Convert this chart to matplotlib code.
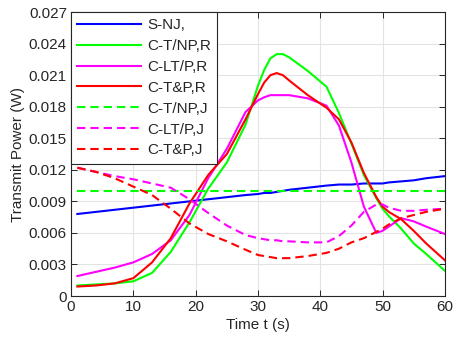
import matplotlib
matplotlib.use("Agg")
import matplotlib.pyplot as plt

plt.rcParams['font.family'] = ['Liberation Sans', 'DejaVu Sans']

# time samples (s)
t = [1, 4, 7, 10, 13, 16, 19, 22, 25, 28, 30, 31, 32, 33, 34, 35, 38, 41, 43, 45, 47, 49, 50, 51, 53, 55, 57, 60]

s_nj = [0.0078, 0.0080, 0.0082, 0.0084, 0.0086, 0.0088, 0.0090, 0.0092, 0.0094, 0.0096, 0.0097, 0.0098, 0.0098,
        0.0099, 0.0100, 0.0101, 0.0103, 0.0105, 0.0106, 0.0106, 0.0107, 0.0107, 0.0107, 0.0108, 0.0109, 0.0110,
        0.0112, 0.0114]
ct_np_r = [0.0010, 0.0011, 0.0012, 0.0014, 0.0022, 0.0042, 0.0070, 0.0102, 0.0127, 0.0163, 0.0200, 0.0215, 0.0226,
           0.0230, 0.0230, 0.0227, 0.0214, 0.0199, 0.0174, 0.0145, 0.0115, 0.0093, 0.0083, 0.0076, 0.0064, 0.0050,
           0.0040, 0.0024]
clt_p_r = [0.0019, 0.0023, 0.0027, 0.0032, 0.0040, 0.0053, 0.0077, 0.0112, 0.0140, 0.0175, 0.0186, 0.0189, 0.0191,
           0.0191, 0.0191, 0.0191, 0.0188, 0.0181, 0.0162, 0.0127, 0.0085, 0.0060, 0.0062, 0.0066, 0.0074, 0.0071,
           0.0066, 0.0059]
ctp_r = [0.0009, 0.0010, 0.0012, 0.0017, 0.0032, 0.0055, 0.0088, 0.0115, 0.0135, 0.0168, 0.0192, 0.0203, 0.0210,
         0.0212, 0.0210, 0.0205, 0.0191, 0.0179, 0.0168, 0.0146, 0.0117, 0.0094, 0.0085, 0.0080, 0.0073, 0.0062,
         0.0050, 0.0034]
ct_np_j = [0.0100] * len(t)
clt_p_j = [0.0122, 0.0118, 0.0114, 0.0111, 0.0107, 0.0103, 0.0092, 0.0079, 0.0067, 0.0058, 0.0055, 0.0054, 0.0053,
           0.0053, 0.0052, 0.0052, 0.0051, 0.0051, 0.0057, 0.0067, 0.0080, 0.0087, 0.0087, 0.0084, 0.0081, 0.0081,
           0.0082, 0.0083]
ctp_j = [0.0122, 0.0118, 0.0112, 0.0104, 0.0096, 0.0083, 0.0069, 0.0059, 0.0052, 0.0044, 0.0039, 0.0038, 0.0037,
         0.0036, 0.0036, 0.0036, 0.0038, 0.0041, 0.0045, 0.0051, 0.0055, 0.0061, 0.0064, 0.0068, 0.0074, 0.0077,
         0.0080, 0.0083]

labels = ['S-NJ,', 'C-T/NP,R', 'C-LT/P,R', 'C-T&P,R', 'C-T/NP,J', 'C-LT/P,J', 'C-T&P,J']

fig = plt.figure(figsize=(4.53, 3.45), dpi=100)
ax = fig.add_axes([0.157, 0.142, 0.825, 0.823])

txt = '#262626'
lw = 1.5
dash = (4, 2.4)
ax.plot(t, s_nj, color=(0, 0, 1), lw=lw, label=labels[0])
ax.plot(t, ct_np_r, color=(0, 1, 0), lw=lw, label=labels[1])
ax.plot(t, clt_p_r, color=(1, 0, 1), lw=lw, label=labels[2])
ax.plot(t, ctp_r, color=(1, 0, 0), lw=lw, label=labels[3])
ax.plot(t, ct_np_j, color=(0, 1, 0), lw=lw, ls='--', dashes=dash, label=labels[4])
ax.plot(t, clt_p_j, color=(1, 0, 1), lw=lw, ls='--', dashes=dash, label=labels[5])
ax.plot(t, ctp_j, color=(1, 0, 0), lw=lw, ls='--', dashes=dash, label=labels[6])

ax.set_xlim(0, 60)
ax.set_ylim(0, 0.027)
ax.set_xticks([0, 10, 20, 30, 40, 50, 60])
ax.set_yticks([0, 0.003, 0.006, 0.009, 0.012, 0.015, 0.018, 0.021, 0.024, 0.027])
ax.set_yticklabels(['0', '0.003', '0.006', '0.009', '0.012', '0.015', '0.018', '0.021', '0.024', '0.027'])
ax.grid(True, color='#e3e3e3', lw=0.8)
ax.set_axisbelow(True)
ax.tick_params(direction='in', top=True, right=True, length=4, width=0.7,
               labelsize=11, colors='#262626', labelcolor=txt, pad=3)
for s in ax.spines.values():
    s.set_color('#262626')
    s.set_linewidth(0.8)

ax.set_xlabel('Time t (s)', fontsize=11, color=txt, labelpad=3)
ax.set_ylabel('Transmit Power (W)', fontsize=11, color=txt, labelpad=3)

leg = ax.legend(loc='upper left', borderaxespad=0, fontsize=11, handlelength=4.2,
                labelspacing=0.45, handletextpad=0.4, borderpad=0.4, fancybox=False,
                framealpha=1, edgecolor='#262626')
leg.get_frame().set_linewidth(0.8)
for tx in leg.get_texts():
    tx.set_color(txt)

fig.savefig('out.png', dpi=100)
